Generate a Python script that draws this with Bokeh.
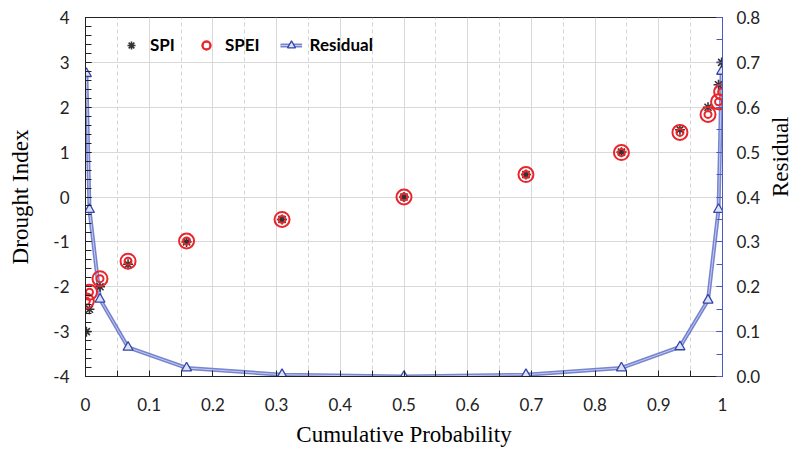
import math
from bokeh.plotting import figure
from bokeh.models import (LinearAxis, Range1d, FixedTicker, CustomJSTickFormatter,
                          Legend, LegendItem, ColumnDataSource)
from bokeh.embed import file_html
from bokeh.resources import INLINE

# ---- data ----
prob = [0.00135, 0.00621, 0.02275, 0.06681, 0.15866, 0.30854, 0.5,
        0.69146, 0.84134, 0.93319, 0.97725, 0.99379, 0.99865]
spi = [-3.0, -2.5, -2.0, -1.5, -1.0, -0.5, 0.0, 0.5, 1.0, 1.5, 2.0, 2.5, 3.0]
spei = [-2.32, -2.12, -1.82, -1.43, -0.98, -0.5, 0.0, 0.5, 0.99, 1.44, 1.84, 2.12, 2.34]
residual = [0.675, 0.372, 0.172, 0.065, 0.019, 0.004, 0.0,
            0.004, 0.019, 0.066, 0.170, 0.372, 0.680]

x_ticks = [0, 0.1, 0.2, 0.3, 0.4, 0.5, 0.6, 0.7, 0.8, 0.9, 1.0]
x_minor = [0.05, 0.15, 0.25, 0.35, 0.45, 0.55, 0.65, 0.75, 0.85, 0.95]
y_ticks = [-4, -3, -2, -1, 0, 1, 2, 3, 4]
r_ticks = [0.0, 0.1, 0.2, 0.3, 0.4, 0.5, 0.6, 0.7, 0.8]

src = ColumnDataSource(dict(p=prob, spi=spi, spei=spei, res=residual))

TICK_FONT = "Lato"
LABEL_FONT = "Liberation Serif"
BLUE = "#4a5bbf"

p = figure(width=809, height=449, x_range=Range1d(0, 1), y_range=Range1d(-4, 4),
           output_backend="svg", toolbar_location=None,
           min_border_left=85, min_border_right=87, min_border_top=17, min_border_bottom=73)
p.extra_y_ranges = {"res": Range1d(0, 0.8)}

# grids
p.xgrid.grid_line_color = "#d9d9d9"
p.xgrid.minor_grid_line_color = "#d4d4d4"
p.xgrid.minor_grid_line_dash = "4 3"
p.ygrid.grid_line_color = "#d9d9d9"
p.outline_line_color = "#222222"

# bottom axis
xa = p.xaxis[0]
xa.ticker = FixedTicker(ticks=x_ticks, minor_ticks=x_minor)
xa.formatter = CustomJSTickFormatter(code="return tick.toFixed(1).replace(/\\.0$/, '');")
# left axis
ya = p.yaxis[0]
ya.ticker = FixedTicker(ticks=y_ticks, minor_ticks=[v / 5 for v in range(-20, 21)])
ya.formatter = CustomJSTickFormatter(code="return tick.toFixed(0);")
# right axis
ra = LinearAxis(y_range_name="res")
ra.ticker = FixedTicker(ticks=r_ticks, minor_ticks=[v / 20 for v in range(0, 17)])
ra.formatter = CustomJSTickFormatter(code="return tick.toFixed(1);")
p.add_layout(ra, "right")

for ax in (xa, ya, ra):
    ax.major_tick_out = 0
    ax.major_tick_in = 6
    ax.minor_tick_out = 0
    ax.minor_tick_in = 6
    ax.major_label_text_font = TICK_FONT
    ax.major_label_text_font_size = "17px"
    ax.major_label_text_color = "#222222"
    ax.axis_label_text_font = LABEL_FONT
    ax.axis_label_text_font_style = "normal"
    ax.axis_label_text_font_size = "23px"
    ax.axis_label_text_color = "black"
    ax.axis_line_color = "#222222"
    ax.major_tick_line_color = "#222222"
    ax.minor_tick_line_color = "#222222"

ra.axis_line_color = BLUE
ra.major_tick_line_color = BLUE
ra.minor_tick_line_color = BLUE

xa.axis_label = "Cumulative Probability"
ya.axis_label = "Drought Index"
ra.axis_label = "Residual"
ra.axis_label_orientation = math.pi / 2
xa.major_label_standoff = 21
xa.axis_label_standoff = 8
ya.major_label_standoff = 16
ya.axis_label_standoff = 17
ra.major_label_standoff = 14
ra.axis_label_standoff = 17

# residual (double line + open triangles)
res_outer = p.line("p", "res", source=src, y_range_name="res", line_color=BLUE,
                   line_width=4, line_alpha=0.75)
res_inner = p.line("p", "res", source=src, y_range_name="res", line_color="#c3caf0",
                   line_width=1)
res_tri = p.scatter("p", "res", source=src, y_range_name="res", marker="triangle",
                    size=10, line_color="#3345aa", fill_color="#dfe3f7", line_width=1.3)

# SPI asterisks
spi_r = p.scatter("p", "spi", source=src, marker="asterisk", size=10,
                  line_color="#333333", line_width=1.6)

# SPEI double circles
spei_o = p.scatter("p", "spei", source=src, marker="circle", size=15, fill_alpha=0,
                   line_color="#e8262b", line_width=2)
spei_i = p.scatter("p", "spei", source=src, marker="circle", size=7, fill_alpha=0,
                   line_color="#e8262b", line_width=2)

legend = Legend(items=[
    LegendItem(label="SPI", renderers=[spi_r]),
    LegendItem(label="SPEI", renderers=[spei_o, spei_i]),
    LegendItem(label="Residual", renderers=[res_outer, res_inner, res_tri]),
], orientation="horizontal", location=(30, 316))
legend.label_text_font = TICK_FONT
legend.label_text_font_style = "bold"
legend.label_text_font_size = "17px"
legend.label_text_color = "black"
legend.background_fill_alpha = 0
legend.border_line_alpha = 0
legend.glyph_width = 22
legend.spacing = 20
legend.label_standoff = 8
legend.padding = 5
p.add_layout(legend)

open("out.html", "w").write(file_html(p, INLINE))
